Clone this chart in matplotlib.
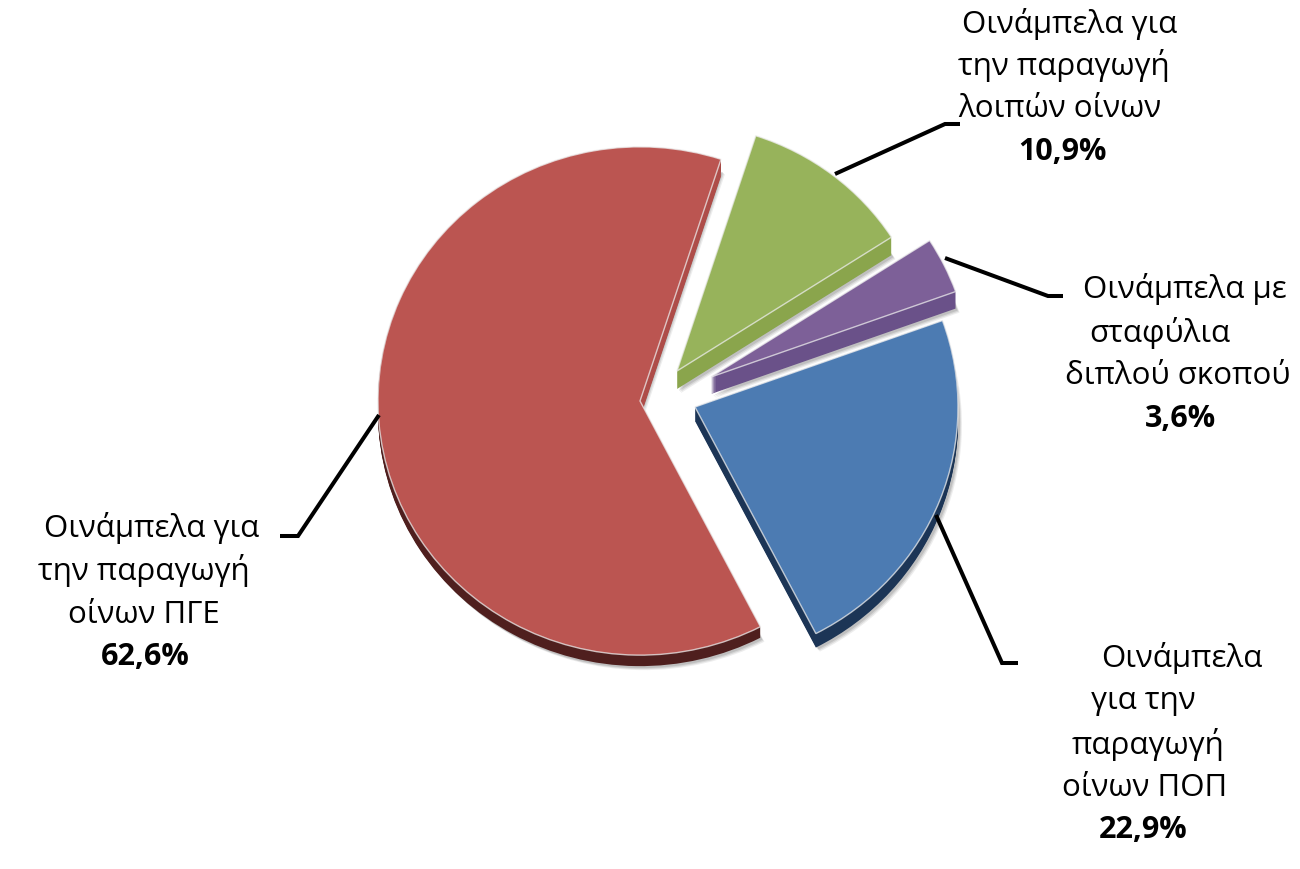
"""
Οινάμπελα - πίτα με αποσπασμένα τμήματα και ψεύτικο 3D βάθος
"""

import matplotlib
matplotlib.use('Agg')
import matplotlib.pyplot as plt

plt.rcParams['font.family'] = ['Open Sans', 'DejaVu Sans']

# δεδομένα, αριστερόστροφα από το κόκκινο τμήμα
shares = [62.6, 22.9, 3.6, 10.9]
top_colors = ['#BB5551', '#4C7BB2', '#7D6098', '#97B35B']
side_colors = ['#4F1F1E', '#1C3556', '#6A5189', '#8AA54C']

label_lines = [
    ['Οινάμπελα για', 'την παραγωγή', 'οίνων ΠΓΕ'],
    ['Οινάμπελα', 'για την', 'παραγωγή', 'οίνων ΠΟΠ'],
    ['Οινάμπελα με', 'σταφύλια', 'διπλού σκοπού'],
    ['Οινάμπελα για', 'την παραγωγή', 'λοιπών οίνων'],
]
pct_labels = ['62,6%', '22,9%', '3,6%', '10,9%']

# θέσεις σε pixel της εικόνας
label_x = [
    [152, 144, 144, 145],
    [1182, 1143, 1148, 1145, 1143],
    [1185, 1160, 1178, 1180],
    [1070, 1064, 1060, 1063],
]
label_y = [
    [528, 571, 615, 657],
    [658, 701, 745, 788, 830],
    [289, 333, 376, 419],
    [24, 66, 109, 152],
]
leader_x = [[379, 298, 280], [936, 1002, 1018], [945, 1048, 1063], [835, 945, 960]]
leader_y = [[416, 537, 537], [516, 664, 664], [259, 297, 297], [175, 125, 125]]

W, H = 1300, 870
SQUASH = 0.97
START = 72.0
tips_px = [(640, 402), (695, 408), (711, 378), (677, 372)]
radii = [262, 263, 260, 255]
depths = [11, 14, 17, 18]

fig = plt.figure(figsize=(W / 100, H / 100), dpi=100)
ax = fig.add_axes([0, 0, 1, 1])


def pie_layer(dy, colors, zorder, edge='none', lw=0, alpha=None, dx=0):
    wedges, _ = ax.pie(shares, colors=colors, startangle=START, normalize=True,
                       wedgeprops={'edgecolor': edge, 'linewidth': lw, 'alpha': alpha})
    for w, (tx, ty), r in zip(wedges, tips_px, radii):
        w.set_center((tx + dx, (H - ty - dy) / SQUASH))
        w.set_radius(r)
        w.set_zorder(zorder)
    return wedges


# μαλακή σκιά
for grow, a in [(4, 0.10), (3, 0.14), (2, 0.18)]:
    shadow = pie_layer(0, ['#555555'] * 4, 1, alpha=a, dx=grow)
    for w, (tx, ty), d in zip(shadow, tips_px, depths):
        w.set_center((tx + grow, (H - ty - d - grow) / SQUASH))

# πλευρικό βάθος
for d in range(max(depths), 0, -1):
    for w, limit in zip(pie_layer(d, side_colors, 2), depths):
        w.set_visible(d <= limit)

# η επάνω κομμένη πλευρά του κόκκινου είναι ανοιχτότερη
for d in range(17, 0, -1):
    sector, _ = ax.pie([25, 75], colors=['#AE4D49', 'none'], startangle=START)
    sector[0].set_center((tips_px[0][0], (H - tips_px[0][1] - d) / SQUASH))
    sector[0].set_radius(radii[0])
    sector[0].set_zorder(3)

pie_layer(0, top_colors, 4)
for w in pie_layer(0, ['none'] * 4, 5, edge='#EDEDED', lw=1.0):
    w.set_alpha(0.75)

ax.set_aspect('auto')
ax.set_xlim(0, W)
ax.set_ylim(0, H / SQUASH)
ax.axis('off')

# επικάλυψη σε pixel για κείμενα και γραμμές
ov = fig.add_axes([0, 0, 1, 1])
ov.set_xlim(0, W)
ov.set_ylim(H, 0)
ov.axis('off')
ov.patch.set_alpha(0)

for xs, ys in zip(leader_x, leader_y):
    ov.plot(xs, ys, color='black', lw=2.9, solid_joinstyle='miter', solid_capstyle='butt')

for lines, pct, xs, ys in zip(label_lines, pct_labels, label_x, label_y):
    for txt, x, y in zip(lines, xs, ys):
        ov.text(x, y, txt, fontsize=22.5, ha='center', va='center', color='black')
    ov.text(xs[-1], ys[-1], pct, fontsize=22, fontweight='bold',
            ha='center', va='center', color='black')

fig.savefig('out.png', dpi=100, facecolor='white')
plt.close()
